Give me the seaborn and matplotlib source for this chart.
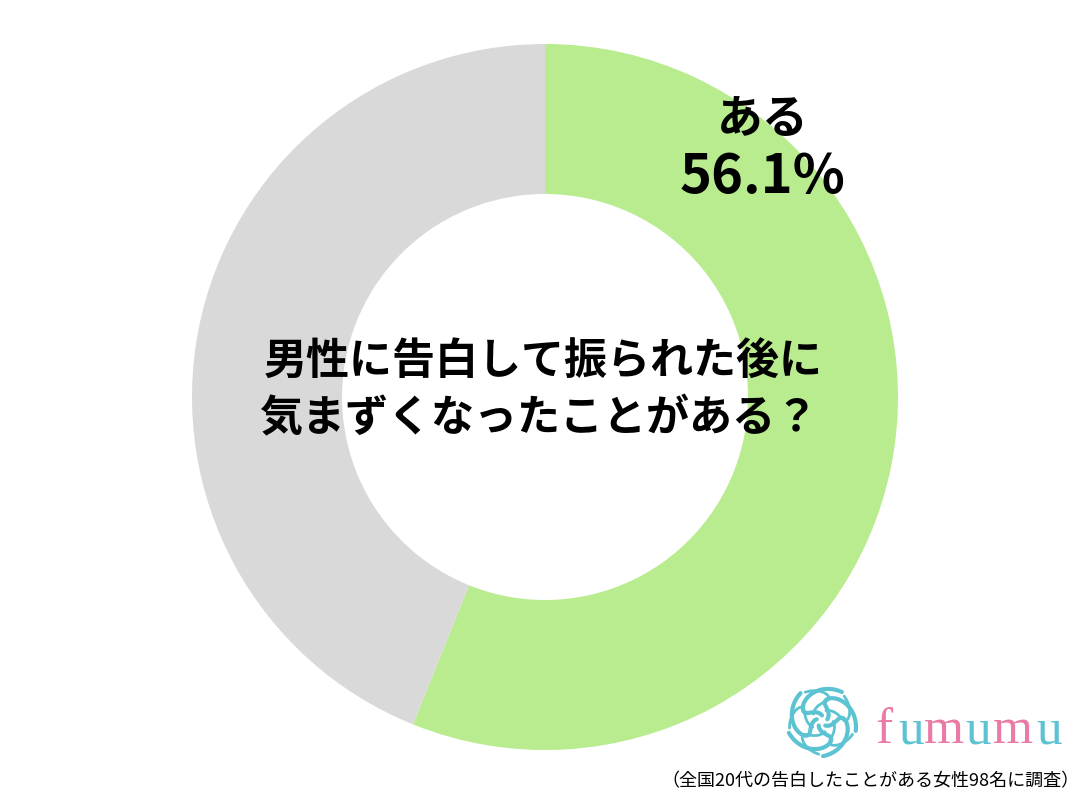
import numpy as np
import matplotlib
matplotlib.use("Agg")
import matplotlib.pyplot as plt
import seaborn as sns

labels = ["ある", "ない"]
values = [56.1, 43.9]
colors = ["#B8EC8F", "#D9D9D9"]
title_lines = ["男性に告白して振られた後に", "気まずくなったことがある？"]
footnote = "（全国20代の告白したことがある女性98名に調査）"
brand = "fumumu"

sns.set_theme(style="white")
plt.rcParams['font.family'] = ['Noto Sans CJK JP', 'DejaVu Sans']

W, H = 1087, 800
fig = plt.figure(figsize=(W / 100, H / 100), dpi=100)
fig.patch.set_facecolor("white")

cx, cy, R = 545, 397, 353
ax = fig.add_axes([(cx - R) / W, (H - cy - R) / H, 2 * R / W, 2 * R / H])
ax.pie(values, colors=colors, startangle=90, counterclock=False,
       radius=1.0, wedgeprops=dict(width=1 - 203 / 353, linewidth=0))
ax.set_xlim(-1, 1)
ax.set_ylim(-1, 1)
ax.set_aspect("equal")
ax.axis("off")

def fx(px):
    return px / W

def fy(py):
    return 1 - py / H

# label for largest slice
fig.text(fx(763), fy(120), labels[0], ha="center", va="center",
         fontsize=33, fontweight="bold", color="black")
fig.text(fx(763), fy(178), f"{values[0]:.1f}%", ha="center", va="center",
         fontsize=39, fontweight="bold", color="black")

# center question
fig.text(fx(543), fy(362), title_lines[0], ha="center", va="center",
         fontsize=31, fontweight="bold", color="black")
fig.text(fx(539), fy(418), title_lines[1], ha="center", va="center",
         fontsize=31, fontweight="bold", color="black")

# footnote
fig.text(fx(1080), fy(781), footnote, ha="right", va="center",
         fontsize=13, color="black")

# brand text, alternating colours, wide letter spacing
pink, blue = "#EA7BA6", "#5CC3D3"
centers = [884, 911, 944, 978, 1013, 1049]
for i, ch in enumerate(brand):
    fig.text(fx(centers[i]), fy(743), ch, ha="center", va="baseline",
             fontsize=37, family=["Liberation Serif"],
             color=pink if i % 2 == 0 else blue)

# decorative logo (pinwheel of curves)
lax = fig.add_axes([fx(785), fy(758), 74 / W, 74 / H])
lax.set_xlim(-1, 1)
lax.set_ylim(-1, 1)
lax.set_aspect("equal")
lax.axis("off")
t = np.linspace(0, 1, 60)
for k in range(5):
    a0 = np.deg2rad(90 + 72 * k)
    r = 0.15 + 0.8 * t
    ang = a0 + 1.4 * np.sin(np.pi * t) - 0.6 * t
    lax.plot(r * np.cos(ang), r * np.sin(ang), color=blue, lw=3,
             solid_capstyle="round")
    ang2 = a0 + 0.9 - 1.2 * np.sin(np.pi * t * 0.9)
    r2 = 0.3 + 0.6 * t
    lax.plot(r2 * np.cos(ang2), r2 * np.sin(ang2), color=blue, lw=2,
             solid_capstyle="round")

fig.savefig("out.png", dpi=100, facecolor="white")
